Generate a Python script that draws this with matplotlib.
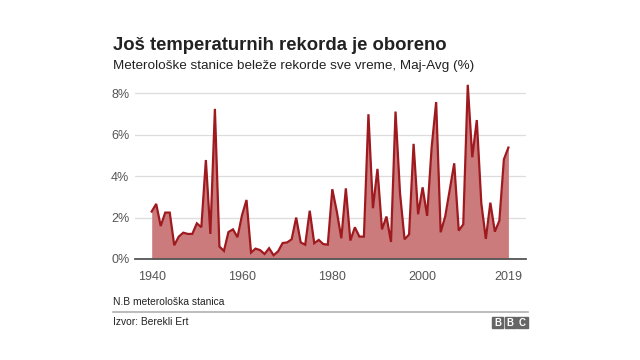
import matplotlib.pyplot as plt
from matplotlib.patches import Rectangle
import numpy as np

plt.rcParams['font.family'] = ['Liberation Sans', 'DejaVu Sans']

years = np.arange(1940, 2020)
records = [2.29, 2.66, 1.59, 2.24, 2.24, 0.66, 1.08, 1.27, 1.21, 1.21,
           1.72, 1.53, 4.78, 1.21, 7.25, 0.60, 0.39, 1.30, 1.43, 1.05,
           2.11, 2.85, 0.31, 0.50, 0.43, 0.24, 0.52, 0.18, 0.37, 0.77,
           0.80, 0.95, 2.00, 0.80, 0.69, 2.33, 0.76, 0.92, 0.72, 0.69,
           3.37, 2.29, 1.00, 3.41, 0.89, 1.53, 1.08, 1.08, 6.99, 2.45,
           4.35, 1.43, 2.05, 0.82, 7.12, 3.17, 0.95, 1.18, 5.56, 2.16,
           3.46, 2.08, 5.39, 7.58, 1.29, 2.05, 3.33, 4.62, 1.37, 1.67,
           8.41, 4.91, 6.71, 2.69, 0.97, 2.72, 1.32, 1.85, 4.81, 5.38]
yticks = [0, 2, 4, 6, 8]
xticks = [1940, 1960, 1980, 2000, 2019]

fig = plt.figure(figsize=(6.4, 3.6), dpi=100)
ax = fig.add_axes([0.2109, 0.2806, 0.611, 0.4947])

ax.fill_between(years, records, 0, color='#cc7b7d', linewidth=0)
ax.plot(years, records, color='#9e1a1f', linewidth=1.6, solid_joinstyle='miter')

ax.set_xlim(1936.3, 2022.9)
ax.set_ylim(0, 8.6)
ax.set_yticks(yticks)
ax.set_yticklabels([f'{t}%' for t in yticks])
ax.set_xticks(xticks)
ax.grid(axis='y', color='#dddddd', linewidth=0.9)
ax.set_axisbelow(True)
for s in ['top', 'right', 'left']:
    ax.spines[s].set_visible(False)
ax.spines['bottom'].set_color('#555555')
ax.spines['bottom'].set_linewidth(1.3)
ax.spines['bottom'].set_zorder(5)
ax.tick_params(axis='both', length=0, labelsize=9, colors='#555555')
ax.tick_params(axis='y', pad=4)
ax.tick_params(axis='x', pad=9)

fig.text(113/640, 1 - 45/360, 'Još temperaturnih rekorda je oboreno',
         fontsize=13.3, fontweight='bold', color='#222222', va='center')
fig.text(113/640, 1 - 66/360, 'Meterološke stanice beleže rekorde sve vreme, Maj-Avg (%)',
         fontsize=9.7, color='#222222', va='center')
fig.text(113/640, 1 - 302/360, 'N.B meterološka stanica',
         fontsize=7.4, color='#222222', va='center')
fig.add_artist(plt.Line2D([113/640, 528/640], [1 - 312/360, 1 - 312/360],
                          color='#b0b0b0', linewidth=1.2))
fig.text(113/640, 1 - 322/360, 'Izvor: Berekli Ert',
         fontsize=7.4, color='#222222', va='center')

# BBC logo blocks
for i, letter in enumerate('BBC'):
    x0 = 492 + i * 12.5
    fig.add_artist(Rectangle((x0/640, 1 - 328/360), 11/640, 11/360,
                             color='#666666', transform=fig.transFigure))
    fig.text((x0 + 5.5)/640, 1 - 322.5/360, letter, fontsize=7,
             fontweight='bold', color='white', ha='center', va='center')

fig.savefig('out.png', dpi=100)
